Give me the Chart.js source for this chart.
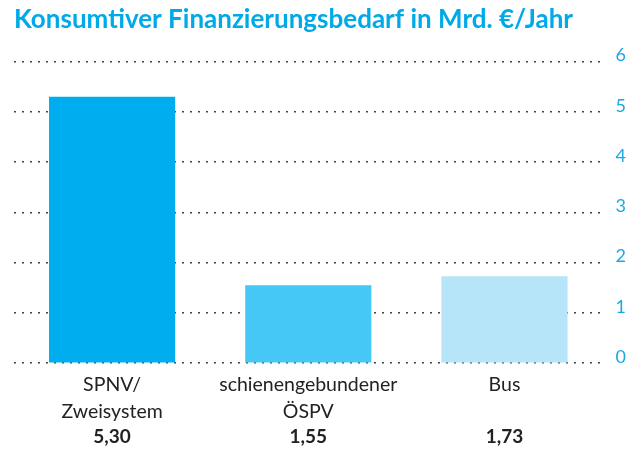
<!DOCTYPE html>
<html><head><meta charset="utf-8">
<script src="https://cdn.jsdelivr.net/npm/chart.js@4.4.1/dist/chart.umd.min.js"></script>
<style>html,body{margin:0;padding:0;background:#fff}#w{width:640px;height:456px}</style>
</head><body><div id="w"><canvas id="c" width="640" height="456"></canvas></div>
<script>
const titleText = 'Konsumtiver Finanzierungsbedarf in Mrd. €/Jahr';
const categories = [['SPNV/', 'Zweisystem'], ['schienengebundener', 'ÖSPV'], ['Bus']];
const values = [5.30, 1.55, 1.73];
const valueLabels = ['5,30', '1,55', '1,73'];
const barColors = ['#00aeef', '#45c8f5', '#b6e4f9'];
const yTicks = [0, 1, 2, 3, 4, 5, 6];

const valuePlugin = {
  id: 'valueRow',
  afterDraw(chart) {
    const ctx = chart.ctx, xs = chart.scales.x;
    ctx.save();
    ctx.font = 'bold 19px Lato';
    ctx.fillStyle = '#222';
    ctx.textAlign = 'center';
    ctx.textBaseline = 'middle';
    valueLabels.forEach((t, i) => ctx.fillText(t, xs.getPixelForValue(i), xs.top + 74));
    ctx.restore();
  }
};

new Chart(document.getElementById('c'), {
  type: 'bar',
  data: {
    labels: categories,
    datasets: [{ data: values, backgroundColor: barColors, barPercentage: 0.643, categoryPercentage: 1 }]
  },
  options: {
    responsive: false,
    animation: false,
    layout: { padding: { left: 14, right: 1, top: 0, bottom: 31 } },
    plugins: {
      legend: { display: false },
      tooltip: { enabled: false },
      title: {
        display: true, text: titleText, align: 'start', color: '#00a9e8',
        font: { family: 'Lato', weight: 'bold', size: 26, lineHeight: 1.1 }, padding: { top: 5, bottom: 28 }
      }
    },
    scales: {
      x: {
        type: 'category',
        grid: { display: false },
        border: { display: false },
        ticks: { color: '#222', font: { family: 'Lato', size: 19.5, lineHeight: 1.38 }, padding: 0, maxRotation: 0, autoSkip: false }
      },
      y: {
        position: 'right', min: 0, max: 6,
        afterBuildTicks: s => { s.ticks = yTicks.map(v => ({ value: v })); },
        grid: { color: '#444', lineWidth: 1.4, drawTicks: false },
        border: { display: false, dash: [2, 6] },
        ticks: { color: '#1aa9e6', font: { family: 'Lato', size: 18 }, padding: 13, labelOffset: -6 }
      }
    }
  },
  plugins: [valuePlugin]
});
</script></body></html>
